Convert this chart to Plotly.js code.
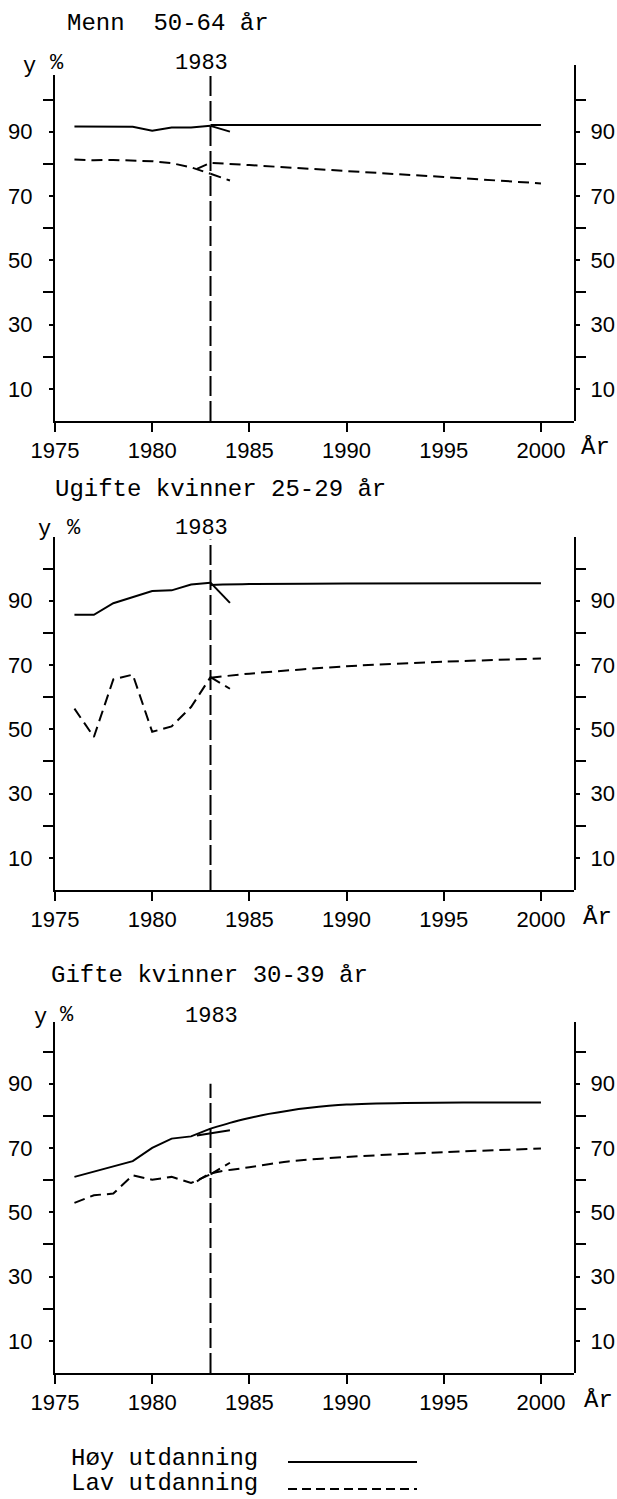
<!DOCTYPE html>
<html>
<head>
<meta charset="utf-8">
<script src="https://cdn.plot.ly/plotly-3.0.1.min.js"></script>
<style>
html, body { margin: 0; padding: 0; background: #fff; }
#graf { width: 617px; height: 1499px; }
</style>
</head>
<body>
<div id="graf"></div>
<script>
// historiske år og den korte grenen etter 1983
var aar = [1976, 1977, 1978, 1979, 1980, 1981, 1982, 1983];
var grenAar = [1983, 1984];

// Menn 50-64 år
var mennHoy = [91.6, 91.6, 91.6, 91.5, 90.3, 91.3, 91.3, 91.8];
var mennHoyGren = [91.8, 90.0];
var mennHoyProgAar = [1983, 1990, 2000];
var mennHoyProg = [92.1, 92.1, 92.1];
var mennLav = [81.3, 81.1, 81.2, 81.0, 80.8, 80.2, 78.9, 76.9];
var mennLavGren = [76.9, 74.8];
var mennLavProgAar = [1982.3, 1983, 1985, 1990, 1995, 2000];
var mennLavProg = [78.4, 80.3, 79.6, 77.8, 75.9, 73.9];

// Ugifte kvinner 25-29 år
var ugifteHoy = [85.6, 85.6, 89.2, 91.1, 93.0, 93.2, 95.0, 95.6];
var ugifteHoyGren = [95.6, 89.3];
var ugifteHoyProgAar = [1983, 1985, 1990, 2000];
var ugifteHoyProg = [94.9, 95.2, 95.3, 95.4];
var ugifteLav = [56.4, 47.6, 65.5, 67.0, 49.2, 50.9, 56.9, 66.2];
var ugifteLavGren = [66.2, 62.6];
var ugifteLavProgAar = [1983, 1985, 1990, 1995, 2000];
var ugifteLavProg = [66.0, 67.3, 69.6, 71.0, 72.0];

// Gifte kvinner 30-39 år
var gifteHoy = [61.0, 62.6, 64.3, 65.9, 70.0, 72.9, 73.6, 76.0];
var gifteHoyGrenAar = [1982.3, 1984];
var gifteHoyGren = [73.9, 75.5];
var gifteHoyProgAar = [1983, 1984, 1985, 1986, 1987, 1988, 1990, 1993, 1996, 2000];
var gifteHoyProg = [76.0, 77.8, 79.3, 80.6, 81.6, 82.4, 83.5, 84.0, 84.1, 84.1];
var gifteLav = [52.9, 55.3, 55.8, 61.5, 60.1, 61.0, 59.1, 61.8];
var gifteLavGren = [61.8, 65.4];
var gifteLavProgAar = [1982.3, 1983, 1985, 1987, 1990, 1995, 2000];
var gifteLavProg = [59.6, 62.0, 64.0, 65.8, 67.2, 68.7, 69.8];

var labelTicks = [10, 30, 50, 70, 90];
var minorTicks = [20, 40, 60, 80, 100];

// sidegeometri (piksler)
var H = 1499, L = 55, R = 574, SC = 3.215;
function px(x) { return (x - L) / (R - L); }
function py(y) { return 1 - y / H; }

var stiplet = '11px,6px';

function linje(x, y, xa, ya, dash, glatt) {
    return {
        x: x, y: y, xaxis: xa, yaxis: ya, mode: 'lines',
        line: {color: '#000', width: 2, dash: dash || 'solid', shape: glatt ? 'spline' : 'linear', smoothing: 0.8},
        hoverinfo: 'skip', showlegend: false
    };
}
function tom(xa, ya) {
    return {x: [], y: [], xaxis: xa, yaxis: ya, mode: 'lines', showlegend: false, hoverinfo: 'skip'};
}

var data = [
    linje(aar, mennHoy, 'x', 'y'),
    linje(grenAar, mennHoyGren, 'x', 'y'),
    linje(mennHoyProgAar, mennHoyProg, 'x', 'y'),
    linje(aar, mennLav, 'x', 'y', stiplet),
    linje(grenAar, mennLavGren, 'x', 'y', stiplet),
    linje(mennLavProgAar, mennLavProg, 'x', 'y', stiplet),
    tom('x', 'y2'),

    linje(aar, ugifteHoy, 'x2', 'y3'),
    linje(grenAar, ugifteHoyGren, 'x2', 'y3'),
    linje(ugifteHoyProgAar, ugifteHoyProg, 'x2', 'y3', null, true),
    linje(aar, ugifteLav, 'x2', 'y3', stiplet),
    linje(grenAar, ugifteLavGren, 'x2', 'y3', stiplet),
    linje(ugifteLavProgAar, ugifteLavProg, 'x2', 'y3', stiplet, true),
    tom('x2', 'y4'),

    linje(aar, gifteHoy, 'x3', 'y5'),
    linje(gifteHoyGrenAar, gifteHoyGren, 'x3', 'y5'),
    linje(gifteHoyProgAar, gifteHoyProg, 'x3', 'y5', null, true),
    linje(aar, gifteLav, 'x3', 'y5', stiplet),
    linje(grenAar, gifteLavGren, 'x3', 'y5', stiplet),
    linje(gifteLavProgAar, gifteLavProg, 'x3', 'y5', stiplet, true),
    tom('x3', 'y6')
];

var tickFont = {family: 'Liberation Sans, Arial, sans-serif', size: 22, color: '#000'};

function xAkse(anchor) {
    return {
        domain: [0, 1], range: [1975, 2001.7], anchor: anchor,
        tickmode: 'linear', tick0: 1975, dtick: 5,
        ticks: 'outside', ticklen: 9, tickwidth: 2, tickcolor: '#000',
        showline: true, linewidth: 2, linecolor: '#000',
        showgrid: false, zeroline: false, tickfont: tickFont,
        ticklabelstandoff: 0, fixedrange: true
    };
}
function yAkse(bunn, topp, anchor, side) {
    return {
        domain: [py(bunn), py(topp)], range: [0, (bunn - topp) / SC],
        anchor: anchor, side: side,
        tickmode: 'array', tickvals: labelTicks,
        ticks: 'outside', ticklen: 4, tickwidth: 2, tickcolor: '#000',
        minor: {tickmode: 'array', tickvals: minorTicks, ticks: 'outside', ticklen: 10, tickwidth: 2, tickcolor: '#000'},
        showline: true, linewidth: 2, linecolor: '#000',
        showgrid: false, zeroline: false, tickfont: tickFont,
        ticklabelstandoff: side === 'left' ? 12 : 6, fixedrange: true
    };
}

function tekst(t, x, y, anker, font) {
    return {text: t, xref: 'paper', yref: 'paper', x: px(x), y: py(y),
        xanchor: anker, yanchor: 'middle', showarrow: false, font: font};
}

var tittelFont = {family: 'Liberation Mono, Courier New, monospace', size: 24, color: '#000'};
var aarFont = {family: 'Liberation Mono, Courier New, monospace', size: 22, color: '#000'};

var annotations = [
    tekst('Menn\u00a0\u00a050-64 år', 65, 24, 'left', tittelFont),
    tekst('y', 29, 66, 'center', aarFont),
    tekst('%', 57, 64, 'center', aarFont),
    tekst('1983', 201, 64, 'center', aarFont),
    tekst('År', 595, 447, 'center', tittelFont),

    tekst('Ugifte kvinner 25-29 år', 53, 490, 'left', tittelFont),
    tekst('y', 44, 530, 'center', aarFont),
    tekst('%', 74, 528, 'center', aarFont),
    tekst('1983', 201, 528, 'center', aarFont),
    tekst('År', 597, 917, 'center', tittelFont),

    tekst('Gifte kvinner 30-39 år', 49, 975, 'left', tittelFont),
    tekst('y', 40, 1017, 'center', aarFont),
    tekst('%', 67, 1015, 'center', aarFont),
    tekst('1983', 211, 1016, 'center', aarFont),
    tekst('År', 598, 1400, 'center', tittelFont),

    tekst('Høy utdanning', 69, 1458, 'left', tittelFont),
    tekst('Lav utdanning', 69, 1483, 'left', tittelFont)
];

var loddrett = {color: '#000', width: 2, dash: '20px,5px'};
var shapes = [
    {type: 'line', xref: 'x', yref: 'y', x0: 1983, x1: 1983, y0: 0, y1: 107.5, line: loddrett},
    {type: 'line', xref: 'x2', yref: 'y3', x0: 1983, x1: 1983, y0: 0, y1: 109, line: loddrett},
    {type: 'line', xref: 'x3', yref: 'y5', x0: 1983, x1: 1983, y0: 0, y1: 90, line: loddrett},
    {type: 'line', xref: 'paper', yref: 'paper', x0: px(288), x1: px(417), y0: py(1462), y1: py(1462),
        line: {color: '#000', width: 2}},
    {type: 'line', xref: 'paper', yref: 'paper', x0: px(288), x1: px(417), y0: py(1489), y1: py(1489),
        line: {color: '#000', width: 2, dash: '9px,5px'}}
];

var layout = {
    width: 617, height: 1499,
    margin: {l: L, r: 617 - R, t: 0, b: 0},
    paper_bgcolor: '#fff', plot_bgcolor: 'rgba(0,0,0,0)',
    showlegend: false,
    xaxis: xAkse('y'),
    xaxis2: xAkse('y3'),
    xaxis3: xAkse('y5'),
    yaxis: yAkse(421, 75, 'x', 'left'),
    yaxis2: yAkse(421, 65, 'x', 'right'),
    yaxis3: yAkse(890, 537, 'x2', 'left'),
    yaxis4: yAkse(890, 537, 'x2', 'right'),
    yaxis5: yAkse(1373, 1022, 'x3', 'left'),
    yaxis6: yAkse(1373, 1022, 'x3', 'right'),
    annotations: annotations,
    shapes: shapes
};

Plotly.newPlot('graf', data, layout, {displayModeBar: false, staticPlot: true});
</script>
</body>
</html>
